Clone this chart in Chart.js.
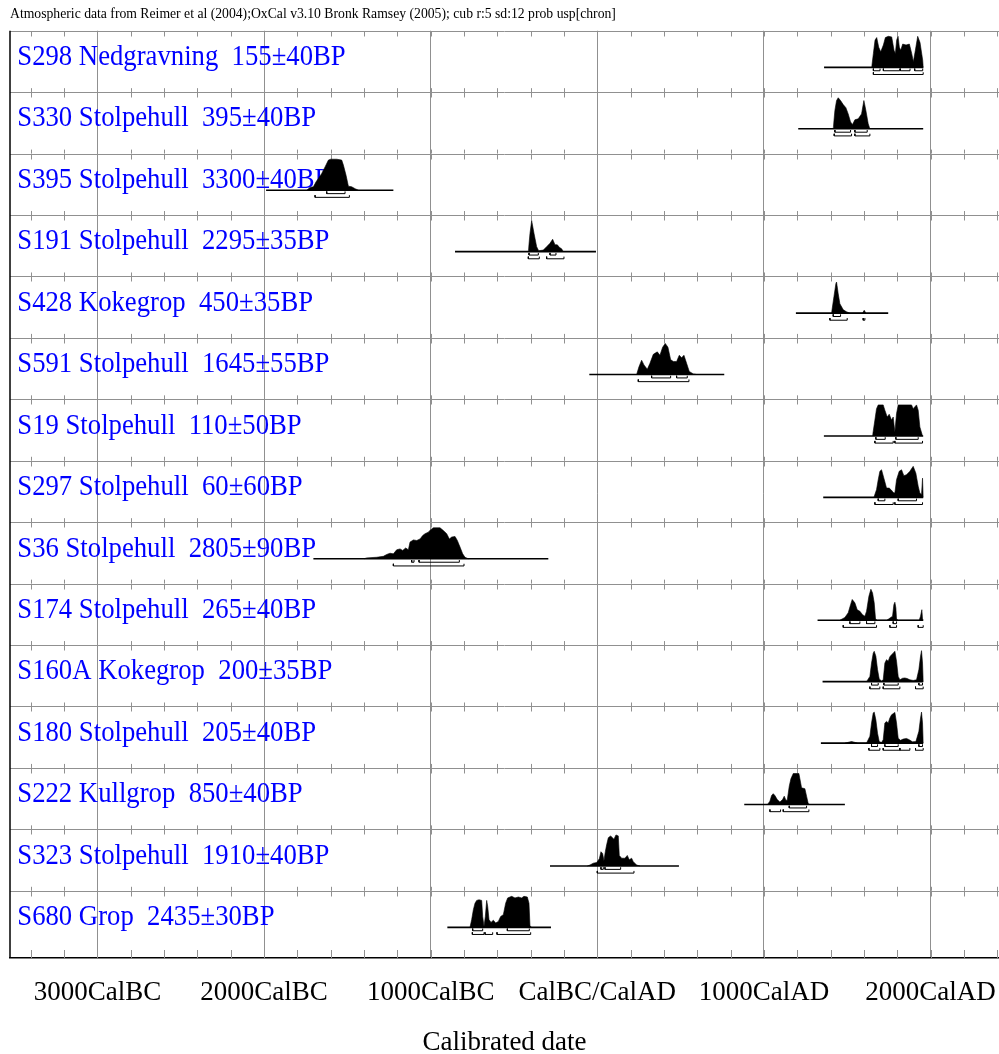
<!DOCTYPE html>
<html>
<head>
<meta charset="utf-8">
<script src="https://cdn.jsdelivr.net/npm/chart.js@4.4.1/dist/chart.umd.min.js"></script>
<style>
  html, body { margin: 0; padding: 0; background: #fff; }
  canvas { display: block; }
</style>
</head>
<body>
<canvas id="chart" width="999" height="1054"></canvas>
<script>
// --- Data ---
const sampleLabels = [
  'S298 Nedgravning  155±40BP',
  'S330 Stolpehull  395±40BP',
  'S395 Stolpehull  3300±40BP',
  'S191 Stolpehull  2295±35BP',
  'S428 Kokegrop  450±35BP',
  'S591 Stolpehull  1645±55BP',
  'S19 Stolpehull  110±50BP',
  'S297 Stolpehull  60±60BP',
  'S36 Stolpehull  2805±90BP',
  'S174 Stolpehull  265±40BP',
  'S160A Kokegrop  200±35BP',
  'S180 Stolpehull  205±40BP',
  'S222 Kullgrop  850±40BP',
  'S323 Stolpehull  1910±40BP',
  'S680 Grop  2435±30BP'
];

const tickYears = [-3000, -2000, -1000, 0, 1000, 2000];
const tickLabels = ['3000CalBC', '2000CalBC', '1000CalBC', 'CalBC/CalAD', '1000CalAD', '2000CalAD'];

// relative probability (peak = 1) against calendar year (BC negative)
const probS298 = [[1647,0],[1657,0.45],[1667,0.88],[1677,0.96],[1689,0.65],[1701,0.5],[1717,0.72],[1729,0.96],[1747,1.0],[1767,0.98],[1781,0.55],[1789,0.45],[1797,0.88],[1805,1.0],[1813,0.65],[1821,0.55],[1833,0.75],[1853,0.72],[1873,0.75],[1887,0.45],[1897,0.18],[1909,0.55],[1923,1.0],[1937,0.8],[1953,0.23],[1956,0]];
const probS330 = [[1416,0],[1426,0.59],[1436,0.91],[1446,1.0],[1460,0.91],[1476,0.78],[1492,0.68],[1506,0.48],[1520,0.22],[1532,0.14],[1546,0.29],[1566,0.32],[1586,0.48],[1600,0.91],[1612,0.59],[1626,0.16],[1636,0]];
const probS395 = [[-1744,0],[-1724,0.09],[-1704,0.11],[-1688,0.27],[-1674,0.38],[-1654,0.54],[-1634,0.75],[-1614,0.97],[-1600,1.0],[-1564,1.0],[-1534,0.97],[-1524,0.81],[-1508,0.48],[-1494,0.13],[-1474,0.11],[-1454,0.05],[-1434,0]];
const probS191 = [[-414,0],[-404,0.59],[-394,1.0],[-380,0.59],[-364,0.16],[-352,0.03],[-324,0.05],[-304,0.16],[-284,0.27],[-268,0.4],[-254,0.22],[-240,0.22],[-228,0.14],[-214,0.09],[-204,0]];
const probS428 = [[1406,0],[1420,0.52],[1432,0.95],[1436,1.0],[1446,0.62],[1456,0.3],[1476,0.11],[1496,0.04],[1516,0],[1592,0],[1602,0.09],[1612,0]];
const probS591 = [[236,0],[250,0.25],[266,0.46],[280,0.31],[300,0.17],[316,0.36],[336,0.65],[360,0.73],[376,0.62],[392,0.88],[408,1.0],[424,0.88],[440,0.48],[456,0.42],[476,0.42],[492,0.62],[506,0.54],[520,0.62],[536,0.36],[552,0.1],[576,0.02],[596,0]];
const probS19 = [[1652,0],[1666,0.51],[1676,0.88],[1686,1.0],[1716,1.0],[1726,0.83],[1740,0.61],[1752,0.7],[1766,0.51],[1776,0.61],[1786,0.13],[1796,0.72],[1806,1.0],[1886,1.0],[1896,0.88],[1916,1.0],[1926,0.83],[1936,0.29],[1952,0]];
const probS297 = [[1660,0],[1676,0.25],[1686,0.57],[1696,0.84],[1706,0.89],[1720,0.62],[1736,0.3],[1752,0.3],[1766,0.23],[1776,0.16],[1786,0.14],[1796,0.57],[1812,0.84],[1826,0.89],[1840,0.7],[1856,0.73],[1876,0.84],[1896,1.0],[1912,0.78],[1926,0.36],[1936,0.14],[1946,0.09],[1952,0.62],[1956,0]];
const probS36 = [[-1400,0],[-1384,0.03],[-1324,0.05],[-1284,0.08],[-1264,0.14],[-1244,0.18],[-1224,0.16],[-1204,0.29],[-1184,0.32],[-1168,0.27],[-1150,0.35],[-1134,0.29],[-1124,0.54],[-1104,0.61],[-1084,0.59],[-1064,0.64],[-1048,0.75],[-1034,0.81],[-1014,0.86],[-1000,0.94],[-984,1.0],[-944,1.0],[-924,0.91],[-904,0.81],[-888,0.64],[-874,0.7],[-854,0.72],[-840,0.59],[-824,0.38],[-808,0.16],[-794,0.05],[-774,0]];
const probS174 = [[1456,0],[1486,0.09],[1506,0.24],[1520,0.5],[1530,0.67],[1546,0.56],[1560,0.34],[1576,0.29],[1592,0.18],[1606,0.13],[1616,0.29],[1630,0.77],[1642,1.0],[1652,0.88],[1662,0.56],[1670,0.04],[1680,0],[1736,0],[1746,0.03],[1772,0.13],[1780,0.5],[1786,0.58],[1792,0.4],[1796,0.04],[1806,0],[1932,0],[1940,0.13],[1948,0.34],[1952,0.04],[1956,0]];
const probS160A = [[1616,0],[1636,0.17],[1646,0.6],[1656,0.92],[1662,0.98],[1672,0.82],[1682,0.39],[1692,0.09],[1706,0.02],[1716,0.06],[1726,0.6],[1736,0.71],[1746,0.66],[1756,0.8],[1766,0.87],[1776,0.92],[1786,0.98],[1796,0.66],[1806,0.17],[1816,0.06],[1832,0.11],[1846,0.12],[1860,0.1],[1876,0.06],[1896,0.04],[1916,0.06],[1930,0.39],[1940,0.82],[1946,1.0],[1952,0.6],[1956,0]];
const probS180 = [[1486,0],[1526,0.05],[1564,0],[1616,0],[1636,0.22],[1646,0.65],[1656,0.97],[1662,1.0],[1672,0.75],[1682,0.32],[1692,0.05],[1706,0.02],[1716,0.11],[1726,0.65],[1736,0.7],[1746,0.65],[1756,0.81],[1766,0.91],[1786,0.99],[1796,0.65],[1806,0.16],[1820,0.09],[1836,0.13],[1856,0.15],[1872,0.11],[1892,0.04],[1912,0.05],[1930,0.38],[1940,0.81],[1946,1.0],[1952,0.65],[1956,0]];
const probS222 = [[1020,0],[1026,0.03],[1036,0.11],[1046,0.29],[1056,0.35],[1066,0.29],[1080,0.16],[1096,0.08],[1112,0.16],[1122,0.27],[1132,0.14],[1140,0.14],[1152,0.59],[1162,0.83],[1176,1.0],[1210,1.0],[1216,0.83],[1226,0.54],[1246,0.51],[1256,0.27],[1266,0.03],[1276,0]];
const probS323 = [[-60,0],[-44,0.03],[-24,0.09],[-4,0.11],[12,0.23],[22,0.46],[32,0.4],[40,0.17],[48,0.46],[56,0.68],[66,0.91],[80,0.97],[100,0.86],[112,1.0],[126,0.97],[132,0.34],[146,0.25],[166,0.25],[180,0.34],[192,0.2],[206,0.25],[216,0.14],[236,0.03],[256,0]];
const probS680 = [[-764,0],[-754,0.25],[-744,0.57],[-734,0.78],[-724,0.87],[-710,0.89],[-694,0.87],[-688,0.35],[-680,0.03],[-672,0.35],[-664,0.87],[-658,0.68],[-650,0.25],[-638,0.16],[-624,0.23],[-610,0.14],[-594,0.19],[-580,0.35],[-564,0.41],[-550,0.78],[-538,0.95],[-514,1.0],[-494,0.95],[-474,0.98],[-454,0.95],[-440,1.0],[-420,0.98],[-410,0.78],[-404,0.05],[-394,0]];

const probCurves = [probS298, probS330, probS395, probS191, probS428, probS591, probS19, probS297,
  probS36, probS174, probS160A, probS180, probS222, probS323, probS680];

// extent of the plotted calibration range per sample
const spanYears = [[1361,1957],[1206,1956],[-1988,-1224],[-854,-8],[1192,1746],[-48,762],[1360,1956],[1356,1956],
  [-1704,-294],[1322,1956],[1352,1956],[1342,1956],[882,1486],[-284,490],[-900,-278]];

// 68.2% and 95.4% ranges
const range68 = [
  [[1657,1697],[1717,1815],[1819,1877],[1905,1953]],
  [[1426,1520],[1546,1620]],
  [[-1624,-1514]],
  [[-410,-354],[-284,-248]],
  [[1416,1460]],
  [[326,440],[476,540]],
  [[1672,1728],[1792,1926]],
  [[1686,1726],[1806,1916]],
  [[-1114,-1100],[-1070,-828]],
  [[1516,1576],[1616,1666],[1776,1796]],
  [[1646,1686],[1720,1806],[1930,1952]],
  [[1646,1682],[1726,1806],[1930,1952]],
  [[1152,1256]],
  [[22,36],[46,140]],
  [[-748,-688],[-540,-408]]
];
const range95 = [
  [[1657,1956]],
  [[1422,1526],[1546,1636]],
  [[-1694,-1488]],
  [[-414,-348],[-304,-200]],
  [[1396,1500],[1596,1606]],
  [[246,550]],
  [[1666,1776],[1786,1952]],
  [[1666,1776],[1786,1952]],
  [[-1224,-800]],
  [[1476,1676],[1756,1796],[1926,1956]],
  [[1636,1696],[1716,1816],[1910,1956]],
  [[1630,1696],[1716,1816],[1816,1876],[1910,1956]],
  [[1036,1100],[1116,1270]],
  [[0,220]],
  [[-750,-680],[-674,-628],[-602,-400]]
];

// --- Building the chart ---
const LEVEL_68 = -0.11;
const LEVEL_95 = -0.23;
const BRACKET_LIP = 0.07;
const lastRow = sampleLabels.length - 1;

function bracketPoints(ranges, level) {
  const pts = [];
  ranges.forEach(([a, b]) => {
    pts.push([a, level + BRACKET_LIP], [a, level], [b, level], [b, level + BRACKET_LIP], [b, null]);
  });
  return pts;
}

const datasets = [];
const scales = {};

sampleLabels.forEach((label, i) => {
  const yAxisID = 'row' + i;
  scales[yAxisID] = {
    type: 'linear',
    position: 'right',
    stack: 'rows',
    stackWeight: i === lastRow ? 1.094 : 1,
    min: i === lastRow ? -0.99 : -0.8,
    max: 1.18,
    display: false
  };
  datasets.push({
    label: label,
    data: probCurves[i],
    yAxisID: yAxisID,
    fill: 'origin',
    backgroundColor: '#000',
    borderColor: '#000',
    borderWidth: 0.6,
    pointRadius: 0
  });
  datasets.push({
    data: spanYears[i].map(v => [v, 0]),
    yAxisID: yAxisID,
    fill: false,
    borderColor: '#000',
    borderWidth: 1.6,
    pointRadius: 0
  });
  datasets.push({
    data: bracketPoints(range68[i], LEVEL_68).concat(bracketPoints(range95[i], LEVEL_95)),
    yAxisID: yAxisID,
    fill: false,
    borderColor: '#000',
    borderWidth: 1,
    pointRadius: 0,
    spanGaps: false
  });
});

scales.x = {
  type: 'linear',
  min: -3525,
  max: 2411,
  afterBuildTicks: axis => { axis.ticks = tickYears.map(v => ({ value: v })); },
  afterFit: axis => {
    // the plot runs off the right edge, so keep labels from shrinking it
    axis.height = 96;
    axis.paddingLeft = 0;
    axis.paddingRight = 0;
  },
  grid: { color: '#909090', lineWidth: 1, drawTicks: false },
  border: { color: '#000', width: 1.5 },
  ticks: {
    padding: 19,
    color: '#000',
    font: { size: 27 },
    maxRotation: 0,
    autoSkip: false,
    callback: (v, idx) => tickLabels[idx]
  },
  title: {
    display: true,
    text: 'Calibrated date',
    color: '#000',
    font: { size: 27, lineHeight: 0.8 },
    padding: 0
  }
};

// rows: separators, small tick marks, frame and the sample names
const rowDecor = {
  id: 'rowDecor',
  beforeDatasetsDraw(chart) {
    const ctx = chart.ctx;
    const xs = chart.scales.x;
    const area = chart.chartArea;
    ctx.save();
    ctx.strokeStyle = '#909090';
    ctx.lineWidth = 1;
    sampleLabels.forEach((label, i) => {
      const s = chart.scales['row' + i];
      const top = Math.round(s.top) + 0.5;
      const bottom = s.bottom;
      ctx.beginPath();
      ctx.moveTo(area.left, top);
      ctx.lineTo(area.right, top);
      for (let yr = -3400; yr <= 2400; yr += 200) {
        const px = Math.round(xs.getPixelForValue(yr)) + 0.5;
        ctx.moveTo(px, top);
        ctx.lineTo(px, top + 5);
        ctx.moveTo(px, bottom - (i === lastRow ? 8 : 4));
        ctx.lineTo(px, bottom);
      }
      ctx.stroke();
    });
    // left frame
    ctx.strokeStyle = '#000';
    ctx.lineWidth = 1.5;
    ctx.beginPath();
    ctx.moveTo(area.left, area.top);
    ctx.lineTo(area.left, area.bottom);
    ctx.stroke();
    // sample names
    ctx.fillStyle = '#0000ff';
    ctx.font = '30px "Liberation Serif"';
    ctx.textBaseline = 'alphabetic';
    sampleLabels.forEach((label, i) => {
      const s = chart.scales['row' + i];
      ctx.save();
      ctx.translate(area.left + 7.3, s.getPixelForValue(0) - 2.3);
      ctx.scale(0.89, 1);
      ctx.fillText(label, 0, 0);
      ctx.restore();
    });
    ctx.restore();
  }
};

Chart.defaults.font.family = '"Liberation Serif", "Times New Roman", serif';

new Chart(document.getElementById('chart'), {
  type: 'line',
  data: { datasets: datasets },
  options: {
    responsive: false,
    devicePixelRatio: 1,
    animation: false,
    layout: { padding: { left: 10, right: 0, top: 0, bottom: 0 } },
    scales: scales,
    plugins: {
      legend: { display: false },
      tooltip: { enabled: false },
      title: {
        display: true,
        text: 'Atmospheric data from Reimer et al (2004);OxCal v3.10 Bronk Ramsey (2005); cub r:5 sd:12 prob usp[chron]',
        align: 'start',
        color: '#000',
        font: { size: 13.7, weight: 'normal' },
        padding: { top: 6, bottom: 8.3 }
      }
    }
  },
  plugins: [rowDecor]
});
</script>
</body>
</html>
